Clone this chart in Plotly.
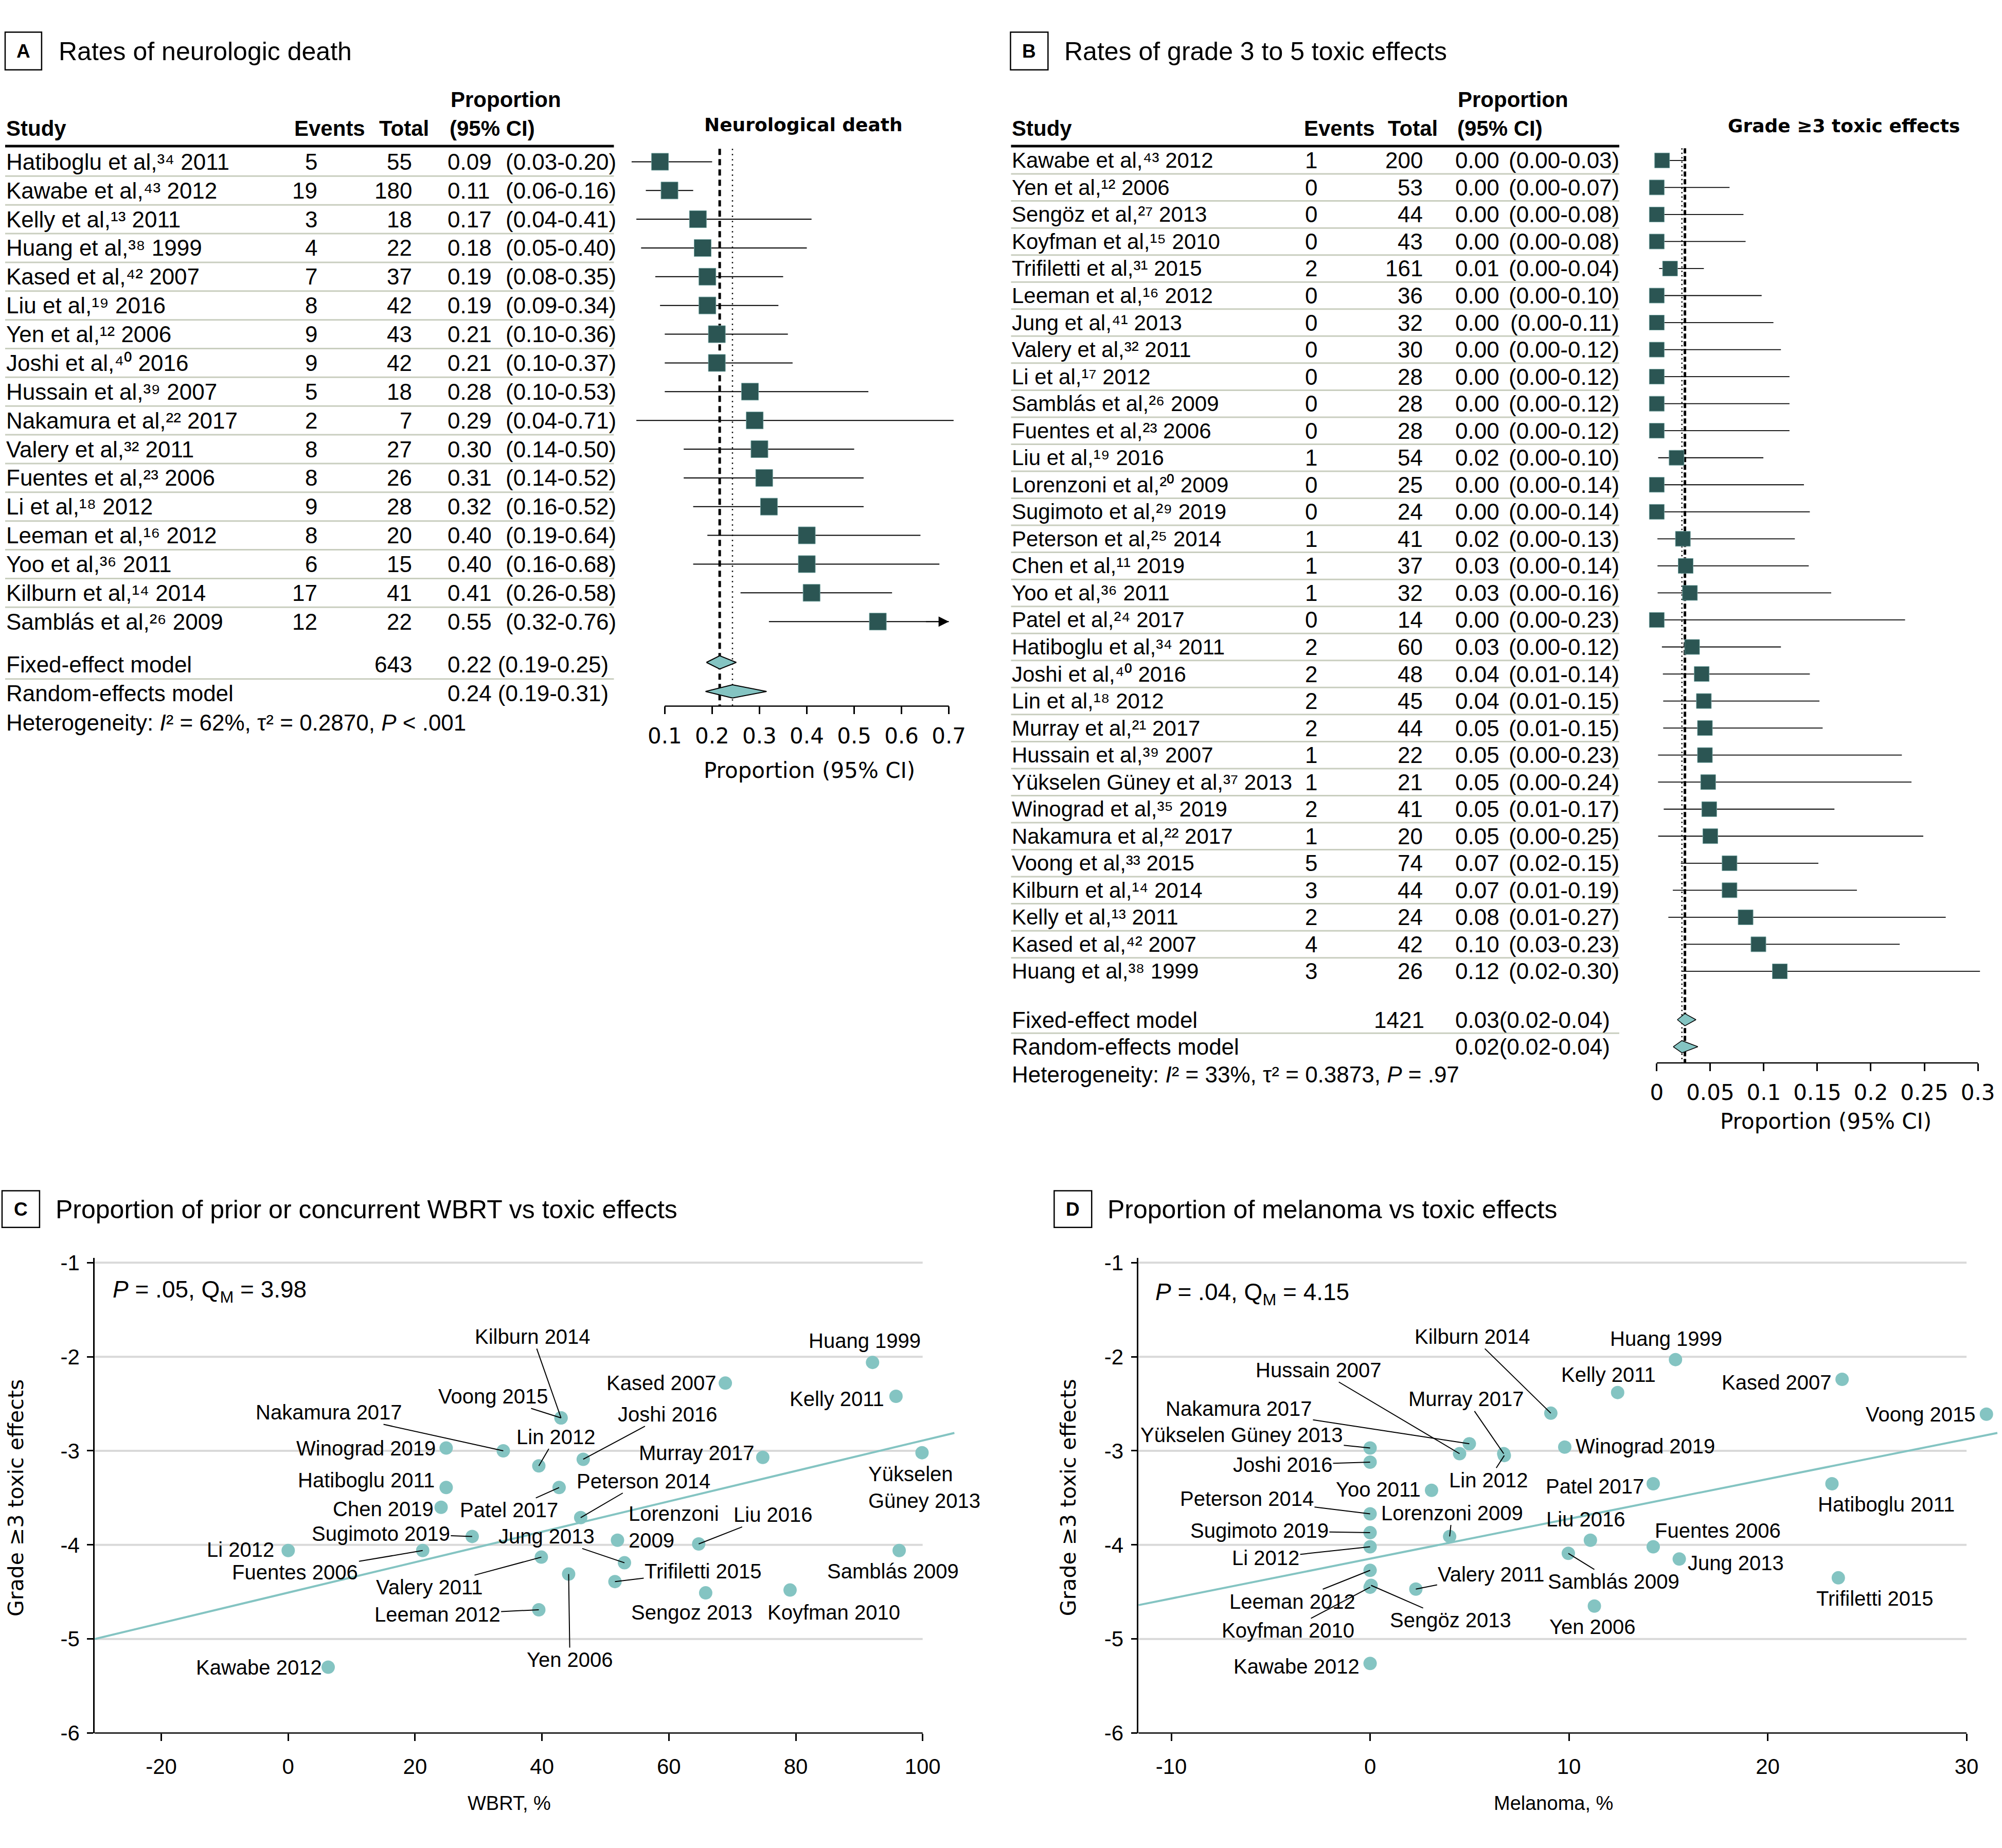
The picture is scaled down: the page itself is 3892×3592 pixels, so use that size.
import plotly.graph_objects as go

W, H = 3892, 3592

# ---------------- Panel A data (neurologic death) ----------------
a_names = ["Hatiboglu et al,", "Kawabe et al,", "Kelly et al,", "Huang et al,", "Kased et al,",
           "Liu et al,", "Yen et al,", "Joshi et al,", "Hussain et al,", "Nakamura et al,",
           "Valery et al,", "Fuentes et al,", "Li et al,", "Leeman et al,", "Yoo et al,",
           "Kilburn et al,", "Samblás et al,"]
a_refs = ["34", "43", "13", "38", "42", "19", "12", "40", "39", "22", "32", "23", "18", "16", "36", "14", "26"]
a_years = ["2011", "2012", "2011", "1999", "2007", "2016", "2006", "2016", "2007", "2017",
           "2011", "2006", "2012", "2012", "2011", "2014", "2009"]
a_events = [5, 19, 3, 4, 7, 8, 9, 9, 5, 2, 8, 8, 9, 8, 6, 17, 12]
a_totals = [55, 180, 18, 22, 37, 42, 43, 42, 18, 7, 27, 26, 28, 20, 15, 41, 22]
a_est = [0.09, 0.11, 0.17, 0.18, 0.19, 0.19, 0.21, 0.21, 0.28, 0.29, 0.30, 0.31, 0.32, 0.40, 0.40, 0.41, 0.55]
a_lo = [0.03, 0.06, 0.04, 0.05, 0.08, 0.09, 0.10, 0.10, 0.10, 0.04, 0.14, 0.14, 0.16, 0.19, 0.16, 0.26, 0.32]
a_hi = [0.20, 0.16, 0.41, 0.40, 0.35, 0.34, 0.36, 0.37, 0.53, 0.71, 0.50, 0.52, 0.52, 0.64, 0.68, 0.58, 0.76]
a_fixed = [0.216, 0.188, 0.251]     # estimate, lower, upper
a_random = [0.243, 0.186, 0.315]
a_fixed_total = "643"
a_fixed_txt = "0.22 (0.19-0.25)"
a_random_txt = "0.24 (0.19-0.31)"
a_ticks = [0.1, 0.2, 0.3, 0.4, 0.5, 0.6, 0.7]
a_axis_max = 0.70

# ---------------- Panel B data (grade 3-5 toxic effects) ----------------
b_names = ["Kawabe et al,", "Yen et al,", "Sengöz et al,", "Koyfman et al,", "Trifiletti et al,",
           "Leeman et al,", "Jung et al,", "Valery et al,", "Li et al,", "Samblás et al,",
           "Fuentes et al,", "Liu et al,", "Lorenzoni et al,", "Sugimoto et al,", "Peterson et al,",
           "Chen et al,", "Yoo et al,", "Patel et al,", "Hatiboglu et al,", "Joshi et al,",
           "Lin et al,", "Murray et al,", "Hussain et al,", "Yükselen Güney et al,", "Winograd et al,",
           "Nakamura et al,", "Voong et al,", "Kilburn et al,", "Kelly et al,", "Kased et al,",
           "Huang et al,"]
b_refs = ["43", "12", "27", "15", "31", "16", "41", "32", "17", "26", "23", "19", "20", "29", "25",
          "11", "36", "24", "34", "40", "18", "21", "39", "37", "35", "22", "33", "14", "13", "42", "38"]
b_years = ["2012", "2006", "2013", "2010", "2015", "2012", "2013", "2011", "2012", "2009", "2006",
           "2016", "2009", "2019", "2014", "2019", "2011", "2017", "2011", "2016", "2012", "2017",
           "2007", "2013", "2019", "2017", "2015", "2014", "2011", "2007", "1999"]
b_events = [1, 0, 0, 0, 2, 0, 0, 0, 0, 0, 0, 1, 0, 0, 1, 1, 1, 0, 2, 2, 2, 2, 1, 1, 2, 1, 5, 3, 2, 4, 3]
b_totals = [200, 53, 44, 43, 161, 36, 32, 30, 28, 28, 28, 54, 25, 24, 41, 37, 32, 14, 60, 48, 45, 44,
            22, 21, 41, 20, 74, 44, 24, 42, 26]
b_prop = ["0.00", "0.00", "0.00", "0.00", "0.01", "0.00", "0.00", "0.00", "0.00", "0.00", "0.00",
          "0.02", "0.00", "0.00", "0.02", "0.03", "0.03", "0.00", "0.03", "0.04", "0.04", "0.05",
          "0.05", "0.05", "0.05", "0.05", "0.07", "0.07", "0.08", "0.10", "0.12"]
b_ci = ["(0.00-0.03)", "(0.00-0.07)", "(0.00-0.08)", "(0.00-0.08)", "(0.00-0.04)", "(0.00-0.10)",
        "(0.00-0.11)", "(0.00-0.12)", "(0.00-0.12)", "(0.00-0.12)", "(0.00-0.12)", "(0.00-0.10)",
        "(0.00-0.14)", "(0.00-0.14)", "(0.00-0.13)", "(0.00-0.14)", "(0.00-0.16)", "(0.00-0.23)",
        "(0.00-0.12)", "(0.01-0.14)", "(0.01-0.15)", "(0.01-0.15)", "(0.00-0.23)", "(0.00-0.24)",
        "(0.01-0.17)", "(0.00-0.25)", "(0.02-0.15)", "(0.01-0.19)", "(0.01-0.27)", "(0.03-0.23)",
        "(0.02-0.30)"]
b_est = [0.005, 0.0, 0.0, 0.0, 0.0124, 0.0, 0.0, 0.0, 0.0, 0.0, 0.0, 0.0185, 0.0, 0.0, 0.0244,
         0.027, 0.031, 0.0, 0.033, 0.042, 0.044, 0.045, 0.045, 0.048, 0.049, 0.050, 0.068, 0.068,
         0.083, 0.095, 0.115]
b_lo = [0.0001, 0.0, 0.0, 0.0, 0.0022, 0.0, 0.0, 0.0, 0.0, 0.0, 0.0, 0.0013, 0.0, 0.0, 0.0006,
        0.0007, 0.0008, 0.0, 0.0048, 0.0057, 0.006, 0.006, 0.0012, 0.0012, 0.0065, 0.0013, 0.0225,
        0.015, 0.0108, 0.027, 0.024]
b_hi = [0.0276, 0.068, 0.081, 0.083, 0.044, 0.098, 0.109, 0.116, 0.124, 0.124, 0.124, 0.0996,
        0.1375, 0.143, 0.129, 0.142, 0.163, 0.232, 0.116, 0.143, 0.152, 0.155, 0.229, 0.238, 0.166,
        0.249, 0.151, 0.187, 0.270, 0.227, 0.302]
b_fixed = [0.0263, 0.0192, 0.0366]
b_random = [0.0235, 0.0154, 0.0384]
b_fixed_total = "1421"
b_fixed_txt = "0.03(0.02-0.04)"
b_random_txt = "0.02(0.02-0.04)"
b_ticks = [0, 0.05, 0.1, 0.15, 0.2, 0.25, 0.3]
b_ticktext = ["0", "0.05", "0.1", "0.15", "0.2", "0.25", "0.3"]

# ---------------- Panel C data (WBRT vs toxic effects) ----------------
c_names = ["Huang 1999", "Kased 2007", "Kelly 2011", "Kilburn 2014", "Voong 2015", "Nakamura 2017",
           "Winograd 2019", "Lin 2012", "Joshi 2016", "Murray 2017", "Yükselen<br>Güney 2013",
           "Hatiboglu 2011", "Patel 2017", "Chen 2019", "Peterson 2014", "Sugimoto 2019",
           "Lorenzoni<br>2009", "Liu 2016", "Li 2012", "Fuentes 2006", "Samblás 2009", "Valery 2011",
           "Jung 2013", "Yen 2006", "Trifiletti 2015", "Sengoz 2013", "Koyfman 2010", "Leeman 2012",
           "Kawabe 2012"]
c_wbrt = [92.1, 68.9, 95.8, 43.0, 43.0, 33.9, 24.9, 39.5, 46.5, 74.8, 99.9, 24.9, 42.7, 24.1, 46.1,
          29.0, 51.9, 64.7, 0.0, 21.2, 96.3, 39.9, 53.0, 44.2, 51.5, 65.8, 79.1, 39.5, 6.3]
c_grade = [-2.06, -2.28, -2.42, -2.65, -2.65, -3.00, -2.97, -3.16, -3.09, -3.07, -3.02, -3.39, -3.39,
           -3.60, -3.71, -3.91, -3.95, -3.99, -4.06, -4.06, -4.06, -4.13, -4.19, -4.31, -4.39, -4.51,
           -4.48, -4.69, -5.30]
c_lab_x = [90.9, 58.8, 86.5, 38.5, 32.3, 6.4, 12.3, 42.2, 59.8, 64.4, 91.3, 12.3, 34.8, 15.0, 56.0,
           14.6, 53.5, 76.4, -7.5, 1.1, 95.3, 22.3, 40.7, 44.4, 65.4, 63.6, 86.0, 23.5, -4.6]
c_lab_y = [-1.83, -2.28, -2.45, -1.785, -2.42, -2.59, -2.97, -2.85, -2.61, -3.02, -3.39, -3.31,
           -3.63, -3.62, -3.32, -3.88, -3.81, -3.68, -4.05, -4.29, -4.28, -4.45, -3.91, -5.22, -4.28,
           -4.72, -4.72, -4.74, -5.30]
c_leader = [0, 0, 0, 1, 1, 1, 0, 1, 1, 0, 0, 0, 1, 0, 1, 1, 0, 1, 0, 1, 0, 1, 1, 1, 1, 0, 0, 1, 0]
c_reg_x = [-30.5, 105.0]
c_reg_y = [-5.00, -2.81]
c_xticks = [-20, 0, 20, 40, 60, 80, 100]

# ---------------- Panel D data (melanoma vs toxic effects) ----------------
d_names = ["Huang 1999", "Kased 2007", "Kelly 2011", "Kilburn 2014", "Voong 2015", "Nakamura 2017",
           "Hussain 2007", "Murray 2017", "Lin 2012", "Yükselen Güney 2013", "Joshi 2016",
           "Winograd 2019", "Yoo 2011", "Patel 2017", "Hatiboglu 2011", "Peterson 2014",
           "Lorenzoni 2009", "Liu 2016", "Sugimoto 2019", "Fuentes 2006", "Li 2012", "Jung 2013",
           "Samblás 2009", "Valery 2011", "Leeman 2012", "Koyfman 2010", "Sengöz 2013",
           "Trifiletti 2015", "Yen 2006", "Kawabe 2012"]
d_mel = [15.36, 23.74, 12.45, 9.09, 31.0, 4.99, 4.50, 6.72, 6.75, 0.0, 0.0, 9.79, 3.09, 14.24, 23.23,
         0.0, 4.0, 11.08, 0.0, 14.24, 0.0, 15.55, 9.97, 2.30, 0.0, 0.0, 0.05, 23.55, 11.28, 0.0]
d_grade = [-2.03, -2.24, -2.38, -2.60, -2.61, -2.925, -3.03, -3.03, -3.05, -2.97, -3.12, -2.96, -3.42,
           -3.35, -3.35, -3.67, -3.91, -3.95, -3.87, -4.02, -4.02, -4.15, -4.09, -4.47, -4.27, -4.45,
           -4.43, -4.35, -4.65, -5.26]
d_lab_x = [14.9, 20.45, 12.0, 5.15, 27.7, -6.6, -2.6, 4.83, 5.95, -6.46, -4.4, 13.83, 0.42, 11.3,
           25.95, -6.2, 4.13, 10.85, -5.57, 17.5, -5.25, 18.4, 12.26, 6.1, -3.9, -4.13, 4.06, 25.4,
           11.2, -3.7]
d_lab_y = [-1.81, -2.27, -2.19, -1.785, -2.61, -2.55, -2.14, -2.45, -3.31, -2.83, -3.15, -2.95, -3.41,
           -3.38, -3.57, -3.51, -3.66, -3.73, -3.85, -3.85, -4.14, -4.19, -4.39, -4.31, -4.6, -4.91,
           -4.80, -4.57, -4.87, -5.29]
d_leader = [0, 0, 0, 1, 0, 1, 1, 1, 1, 1, 1, 0, 0, 0, 0, 1, 1, 0, 1, 0, 1, 0, 1, 1, 1, 1, 1, 0, 0, 0]
d_reg_x = [-11.65, 31.55]
d_reg_y = [-4.64, -2.81]
d_xticks = [-10, 0, 10, 20, 30]

y_ticks = [-1, -2, -3, -4, -5, -6]

# ---------------- styling / geometry ----------------
TXT = "Liberation Sans, Arial, sans-serif"
AXF = "DejaVu Sans, Verdana, sans-serif"
DARK = "#2b5553"
TEAL = "#84c4c2"
SEP = "#c9cebf"
SUP = str.maketrans("0123456789", "⁰¹²³⁴⁵⁶⁷⁸⁹")


def PX(px):
    return px / W


def PY(py):
    return 1 - py / H


A_ROW0, A_STEP = 303.6, 56.46
B_ROW0, B_STEP = 301.0, 53.1
A_FIX, A_RAN, A_AXIS, A_TOP = 17.42, 18.43, 18.94, -2.70
B_FIX, B_RAN, B_AXIS, B_TOP = 31.79, 32.79, 33.39, -3.03


def a_py(v):
    return A_ROW0 + v * A_STEP


def b_py(v):
    return B_ROW0 + v * B_STEP


annotations = []
shapes = []


def ann(x, y, text, size=44, anchor='left', family=TXT, weight='normal', **kw):
    d = dict(x=PX(x), y=PY(y), xref='paper', yref='paper', text=text, showarrow=False,
             xanchor=anchor, yanchor='middle',
             font=dict(family=family, size=size, color='black', weight=weight))
    d.update(kw)
    annotations.append(d)


def hline(x0, x1, py, color, width):
    shapes.append(dict(type='line', xref='paper', yref='paper', x0=PX(x0), x1=PX(x1),
                       y0=PY(py), y1=PY(py), line=dict(color=color, width=width)))


def box(x0, y0, x1, y1):
    shapes.append(dict(type='rect', xref='paper', yref='paper', x0=PX(x0), x1=PX(x1),
                       y0=PY(y1), y1=PY(y0), line=dict(color='black', width=2.5)))


fig = go.Figure()

# ---------------- Panel A forest ----------------
ax_a0, ax_a1 = 1200.0, 1875.0
A_PPU, A_X01 = 921.7, 1294.0
rng_xa = [0.1 + (ax_a0 - A_X01) / A_PPU, 0.1 + (ax_a1 - A_X01) / A_PPU]

ci_x, ci_y = [], []
for i, (lo, hi) in enumerate(zip(a_lo, a_hi)):
    ci_x += [lo, hi if hi <= a_axis_max + 0.01 else a_axis_max, None]
    ci_y += [i, i, None]
fig.add_trace(go.Scatter(x=ci_x, y=ci_y, mode='lines', line=dict(color='black', width=2),
                         xaxis='x', yaxis='y', hoverinfo='skip'))
fig.add_trace(go.Scatter(x=[a_fixed[0]] * 2, y=[-0.45, A_AXIS], mode='lines',
                         line=dict(color='black', width=5, dash='12px,8px'), xaxis='x', yaxis='y'))
fig.add_trace(go.Scatter(x=[a_random[0]] * 2, y=[-0.45, A_AXIS], mode='lines',
                         line=dict(color='black', width=2.5, dash='2.5px,7.5px'), xaxis='x', yaxis='y'))
fig.add_trace(go.Scatter(x=a_est, y=list(range(len(a_est))), mode='markers',
                         marker=dict(symbol='square', size=33, color=DARK, line=dict(color='#6f9f9c', width=1)),
                         xaxis='x', yaxis='y'))
for row, (e, lo, hi) in [(A_FIX, a_fixed), (A_RAN, a_random)]:
    hh = 13.0 / A_STEP
    fig.add_trace(go.Scatter(x=[lo, e, hi, e, lo], y=[row, row - hh, row, row + hh, row], mode='lines',
                             fill='toself', fillcolor=TEAL, line=dict(color='black', width=2),
                             xaxis='x', yaxis='y'))
# arrow for truncated CI
for i, hi in enumerate(a_hi):
    if hi > a_axis_max + 0.01:
        annotations.append(dict(x=a_axis_max, y=i, ax=a_axis_max - 0.05, ay=i, xref='x', yref='y',
                                axref='x', ayref='y', text='', showarrow=True, arrowhead=2,
                                arrowsize=2.0, arrowwidth=2, arrowcolor='black'))
shapes.append(dict(type='line', xref='x', yref='paper', x0=a_ticks[0], x1=a_ticks[-1],
                   y0=PY(a_py(A_AXIS)), y1=PY(a_py(A_AXIS)), line=dict(color='black', width=2.5)))

# Panel A table
box(10, 49, 81, 123)
ann(45.5, 86, "A", size=37, anchor='center', weight='bold')
ann(112, 87, "Rates of neurologic death", size=50)
ann(875, 181, "Proportion", size=42, weight='bold')
ann(10, 238, "Study", size=42, weight='bold')
ann(642, 238, "Events", size=42, anchor='center', weight='bold')
ann(787, 238, "Total", size=42, anchor='center', weight='bold')
ann(873, 238, "(95% CI)", size=42, weight='bold')
ann(1564, 231, "Neurological death", size=36, anchor='center', family=AXF, weight='bold')
hline(10, 1195, 273, 'black', 5)
for i in range(len(a_names)):
    py = a_py(i)
    ann(10, py, f"{a_names[i]}{a_refs[i].translate(SUP)} {a_years[i]}")
    ann(620, py, str(a_events[i]), anchor='right')
    ann(804, py, str(a_totals[i]), anchor='right')
    ann(869, py, f"{a_est[i]:.2f}")
    ann(1202, py, f"({a_lo[i]:.2f}-{a_hi[i]:.2f})", anchor='right')
    if i < len(a_names) - 1:
        hline(10, 1195, a_py(i + 0.5), SEP, 3)
ann(10, a_py(A_FIX) + 4, "Fixed-effect model")
ann(804, a_py(A_FIX) + 4, a_fixed_total, anchor='right')
ann(869, a_py(A_FIX) + 4, a_fixed_txt)
hline(10, 1195, a_py((A_FIX + A_RAN) / 2) + 4, SEP, 3)
ann(10, a_py(A_RAN) + 4, "Random-effects model")
ann(869, a_py(A_RAN) + 4, a_random_txt)
ann(10, 1405, "Heterogeneity: <i>I</i>² = 62%, τ² = 0.2870, <i>P</i> &lt; .001")
ann(1576, 1499, "Proportion (95% CI)", size=42, anchor='center', family=AXF)

# ---------------- Panel B forest ----------------
ax_b0, ax_b1 = 3195.0, 3885.0
B_PPU, B_X0 = 2083.3, 3225.0
rng_xb = [(ax_b0 - B_X0) / B_PPU, (ax_b1 - B_X0) / B_PPU]
ci_x, ci_y = [], []
for i, (lo, hi) in enumerate(zip(b_lo, b_hi)):
    ci_x += [lo, hi, None]
    ci_y += [i, i, None]
fig.add_trace(go.Scatter(x=ci_x, y=ci_y, mode='lines', line=dict(color='black', width=1.8),
                         xaxis='x2', yaxis='y2'))
fig.add_trace(go.Scatter(x=[b_random[0]] * 2, y=[-0.45, B_AXIS], mode='lines',
                         line=dict(color='black', width=2.5, dash='2.5px,6px'), xaxis='x2', yaxis='y2'))
fig.add_trace(go.Scatter(x=[b_fixed[0]] * 2, y=[-0.45, B_AXIS], mode='lines',
                         line=dict(color='black', width=5, dash='10px,5px'), xaxis='x2', yaxis='y2'))
fig.add_trace(go.Scatter(x=b_est, y=list(range(len(b_est))), mode='markers',
                         marker=dict(symbol='square', size=29, color=DARK, line=dict(color='#6f9f9c', width=1)),
                         xaxis='x2', yaxis='y2'))
for row, (e, lo, hi) in [(B_FIX, b_fixed), (B_RAN, b_random)]:
    hh = 12.0 / B_STEP
    fig.add_trace(go.Scatter(x=[lo, e, hi, e, lo], y=[row, row - hh, row, row + hh, row], mode='lines',
                             fill='toself', fillcolor=TEAL, line=dict(color='black', width=1.5),
                             xaxis='x2', yaxis='y2'))
shapes.append(dict(type='line', xref='x2', yref='paper', x0=b_ticks[0], x1=b_ticks[-1],
                   y0=PY(b_py(B_AXIS)), y1=PY(b_py(B_AXIS)), line=dict(color='black', width=2.5)))

box(1967, 49, 2040, 123)
ann(2003.5, 86, "B", size=37, anchor='center', weight='bold')
ann(2070, 87, "Rates of grade 3 to 5 toxic effects", size=50)
ann(2836, 181, "Proportion", size=42, weight='bold')
ann(1968, 238, "Study", size=42, weight='bold')
ann(2607, 238, "Events", size=42, anchor='center', weight='bold')
ann(2750, 238, "Total", size=42, anchor='center', weight='bold')
ann(2835, 238, "(95% CI)", size=42, weight='bold')
ann(3589, 233, "Grade ≥3 toxic effects", size=36, anchor='center', family=AXF, weight='bold')
hline(1968, 3152, 273, 'black', 5)
for i in range(len(b_names)):
    py = b_py(i)
    ann(1968, py, f"{b_names[i]}{b_refs[i].translate(SUP)} {b_years[i]}", size=42)
    ann(2552, py, str(b_events[i]), anchor='center')
    ann(2772, py, str(b_totals[i]), anchor='right')
    ann(2831, py, b_prop[i])
    ann(3154, py, b_ci[i], anchor='right')
    if i < len(b_names) - 1:
        hline(1968, 3152, b_py(i + 0.5), SEP, 3)
ann(1968, b_py(B_FIX), "Fixed-effect model")
ann(2775, b_py(B_FIX), b_fixed_total, anchor='right')
ann(2831, b_py(B_FIX), b_fixed_txt)
hline(1968, 3152, b_py((B_FIX + B_RAN) / 2), SEP, 3)
ann(1968, b_py(B_RAN), "Random-effects model")
ann(2831, b_py(B_RAN), b_random_txt)
ann(1968, 2097, "Heterogeneity: <i>I</i>² = 33%, τ² = 0.3873, <i>P</i> = .97")
ann(3554, 2189, "Proportion (95% CI)", size=42, anchor='center', family=AXF)

# ---------------- Panel C scatter ----------------
C_X0, C_PPU = 561.0, 12.35
S_Y1, S_PPU = 2466.4, 184.8
rng_xc = [-30.5, 106.0]
rng_ys = [-6.0, -0.95]
c_dom_x = [PX(C_X0 + rng_xc[0] * C_PPU), PX(C_X0 + rng_xc[1] * C_PPU)]
s_dom_y = [PY(S_Y1 + (-1 - rng_ys[0]) * S_PPU), PY(S_Y1 + (-1 - rng_ys[1]) * S_PPU)]

fig.add_trace(go.Scatter(x=c_reg_x, y=c_reg_y, mode='lines', line=dict(color=TEAL, width=4),
                         xaxis='x3', yaxis='y3'))
fig.add_trace(go.Scatter(x=c_wbrt, y=c_grade, mode='markers', marker=dict(size=26, color=TEAL),
                         xaxis='x3', yaxis='y3', cliponaxis=False))
for yv in y_ticks[:-1]:
    shapes.append(dict(type='line', xref='x3', yref='y3', x0=rng_xc[0], x1=c_xticks[-1], y0=yv, y1=yv,
                       line=dict(color='#d9d9d9', width=4), layer='below'))
shapes.append(dict(type='line', xref='x3', yref='paper', x0=rng_xc[0], x1=c_xticks[-1],
                   y0=PY(S_Y1 + 5 * S_PPU), y1=PY(S_Y1 + 5 * S_PPU), line=dict(color='black', width=2.5)))
for nm, x, y, lx, ly, ld in zip(c_names, c_wbrt, c_grade, c_lab_x, c_lab_y, c_leader):
    f = dict(family=TXT, size=40, color='black')
    if ld:
        annotations.append(dict(x=x, y=y, xref='x3', yref='y3', ax=lx, ay=ly, axref='x3', ayref='y3',
                                text=nm, showarrow=True, arrowhead=0, arrowwidth=2, arrowcolor='black',
                                font=f))
    elif '<br>' in nm:
        annotations.append(dict(x=lx, y=ly, xref='x3', yref='y3', text=nm, showarrow=False,
                                xanchor='left', align='left', font=f))
    else:
        annotations.append(dict(x=lx, y=ly, xref='x3', yref='y3', text=nm, showarrow=False, font=f))
annotations.append(dict(x=-27.8, y=-1.30, xref='x3', yref='y3', xanchor='left', showarrow=False,
                        text="<i>P</i> = .05, Q<sub>M</sub> = 3.98", font=dict(family=TXT, size=46)))
box(4, 2325, 77, 2397)
ann(40.5, 2361, "C", size=37, anchor='center', weight='bold')
ann(106, 2362, "Proportion of prior or concurrent WBRT vs toxic effects", size=50)
ann(991, 3528, "WBRT, %", size=38, anchor='center')
ann(31, 2928, "Grade ≥3 toxic effects", size=41, anchor='center', family=AXF, textangle=-90)

# ---------------- Panel D scatter ----------------
D_X0, D_PPU = 2667.0, 38.7
rng_xd = [-11.65, (W - D_X0) / D_PPU]
d_dom_x = [PX(D_X0 + rng_xd[0] * D_PPU), 1.0]
fig.add_trace(go.Scatter(x=d_reg_x, y=d_reg_y, mode='lines', line=dict(color=TEAL, width=4),
                         xaxis='x4', yaxis='y4'))
fig.add_trace(go.Scatter(x=d_mel, y=d_grade, mode='markers', marker=dict(size=26, color=TEAL),
                         xaxis='x4', yaxis='y4', cliponaxis=False))
for yv in y_ticks[:-1]:
    shapes.append(dict(type='line', xref='x4', yref='y4', x0=rng_xd[0], x1=d_xticks[-1], y0=yv, y1=yv,
                       line=dict(color='#d9d9d9', width=4), layer='below'))
shapes.append(dict(type='line', xref='x4', yref='paper', x0=rng_xd[0], x1=d_xticks[-1],
                   y0=PY(S_Y1 + 5 * S_PPU), y1=PY(S_Y1 + 5 * S_PPU), line=dict(color='black', width=2.5)))
for nm, x, y, lx, ly, ld in zip(d_names, d_mel, d_grade, d_lab_x, d_lab_y, d_leader):
    f = dict(family=TXT, size=40, color='black')
    if ld:
        annotations.append(dict(x=x, y=y, xref='x4', yref='y4', ax=lx, ay=ly, axref='x4', ayref='y4',
                                text=nm, showarrow=True, arrowhead=0, arrowwidth=2, arrowcolor='black',
                                font=f))
    else:
        annotations.append(dict(x=lx, y=ly, xref='x4', yref='y4', text=nm, showarrow=False, font=f))
annotations.append(dict(x=-10.85, y=-1.33, xref='x4', yref='y4', xanchor='left', showarrow=False,
                        text="<i>P</i> = .04, Q<sub>M</sub> = 4.15", font=dict(family=TXT, size=46)))
box(2052, 2325, 2125, 2397)
ann(2088.5, 2361, "D", size=37, anchor='center', weight='bold')
ann(2154, 2362, "Proportion of melanoma vs toxic effects", size=50)
ann(3024, 3528, "Melanoma, %", size=38, anchor='center')
ann(2080, 2928, "Grade ≥3 toxic effects", size=41, anchor='center', family=AXF, textangle=-90)

# ---------------- axes ----------------
forest_x = dict(showgrid=False, zeroline=False, showline=False, ticks='outside', ticklen=15,
                tickwidth=2.5, tickcolor='black', tickfont=dict(family=AXF, size=42, color='black'),
                ticklabelstandoff=6)
scat_x = dict(showgrid=False, zeroline=False, showline=False, ticks='outside', ticklen=14,
              tickwidth=2.5, tickcolor='black', tickfont=dict(family=TXT, size=42, color='black'),
              ticklabelstandoff=14)
scat_y = dict(showgrid=False, zeroline=False, showline=True, linecolor='black', linewidth=2.5,
              ticks='outside', ticklen=12, tickwidth=2.5, tickcolor='black',
              tickfont=dict(family=TXT, size=42, color='black'), range=rng_ys,
              domain=s_dom_y, tickvals=y_ticks, ticktext=[str(v) for v in y_ticks], ticklabelstandoff=6)

fig.update_layout(
    width=W, height=H, autosize=False, margin=dict(l=0, r=0, t=0, b=0),
    paper_bgcolor='white', plot_bgcolor='rgba(0,0,0,0)', showlegend=False,
    font=dict(family=TXT, color='black'),
    xaxis=dict(forest_x, domain=[PX(ax_a0), PX(ax_a1)], range=rng_xa, anchor='y',
               tickvals=a_ticks, ticktext=[f"{t:.1f}" for t in a_ticks]),
    yaxis=dict(domain=[PY(a_py(A_AXIS)), PY(a_py(A_TOP))], range=[A_AXIS, A_TOP], visible=False,
               anchor='x'),
    xaxis2=dict(forest_x, domain=[PX(ax_b0), PX(ax_b1)], range=rng_xb, anchor='y2',
                tickvals=b_ticks, ticktext=b_ticktext),
    yaxis2=dict(domain=[PY(b_py(B_AXIS)), PY(b_py(B_TOP))], range=[B_AXIS, B_TOP], visible=False,
                anchor='x2'),
    xaxis3=dict(scat_x, domain=c_dom_x, range=rng_xc, anchor='y3', tickvals=c_xticks,
                ticktext=[str(v) for v in c_xticks]),
    yaxis3=dict(scat_y, anchor='x3'),
    xaxis4=dict(scat_x, domain=d_dom_x, range=rng_xd, anchor='y4', tickvals=d_xticks,
                ticktext=[str(v) for v in d_xticks]),
    yaxis4=dict(scat_y, anchor='x4'),
    annotations=annotations, shapes=shapes,
)

fig.write_html("out.html", config={"displayModeBar": False},
               post_script="document.body.style.margin='0px';")
